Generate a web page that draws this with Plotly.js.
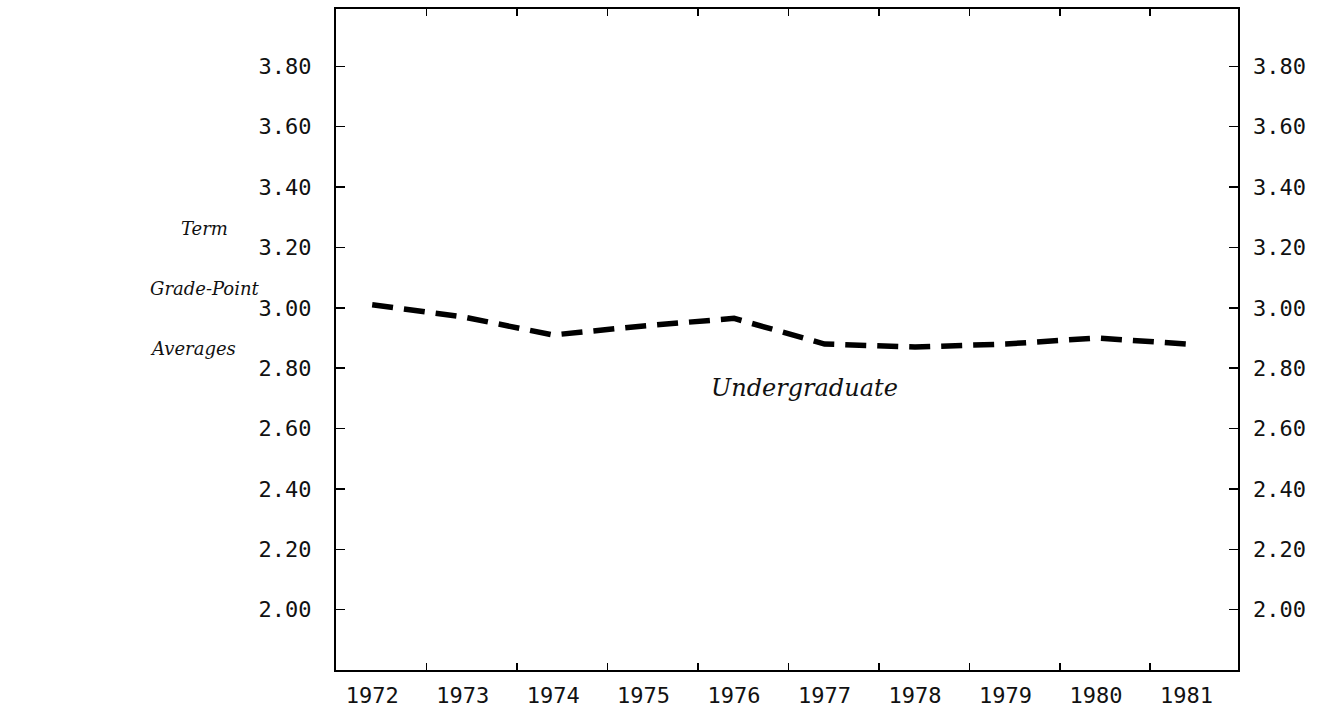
<!DOCTYPE html>
<html>
<head>
<meta charset="utf-8">
<script src="https://cdn.plot.ly/plotly-3.0.1.min.js"></script>
<style>html,body{margin:0;padding:0;background:#fff;}#chart{width:1333px;height:710px;}</style>
</head>
<body>
<div id="chart"></div>
<script>
// Data
var years = [1972, 1973, 1974, 1975, 1976, 1977, 1978, 1979, 1980, 1981];
var undergradGPA = [3.01, 2.97, 2.91, 2.94, 2.965, 2.88, 2.87, 2.88, 2.90, 2.88];
var yearLabels = ['1972','1973','1974','1975','1976','1977','1978','1979','1980','1981'];
var gpaTicks = [2.00, 2.20, 2.40, 2.60, 2.80, 3.00, 3.20, 3.40, 3.60, 3.80];
var gpaTickLabels = ['2.00','2.20','2.40','2.60','2.80','3.00','3.20','3.40','3.60','3.80'];
var seriesName = 'Undergraduate';

// Decorative tick-mark positions between year labels
var xTickMarks = years.slice(0, -1).map(function (y) { return y + 0.6; });

var xRange = [1971.6, 1981.57];
var yRange = [1.80, 3.99];
var monoFont = {family: 'DejaVu Sans Mono', size: 22, color: '#111'};
var italicBig = {family: 'DejaVu Serif', size: 24, color: '#111', style: 'italic'};
var italicSmall = {family: 'DejaVu Serif', size: 18, color: '#111', style: 'italic'};

var traces = [{
  x: years,
  y: undergradGPA,
  type: 'scatter',
  mode: 'lines',
  name: seriesName,
  line: {color: '#000', width: 5.5, dash: '21px,11px'},
  showlegend: false
}, {
  x: years,
  y: undergradGPA,
  xaxis: 'x2',
  yaxis: 'y2',
  type: 'scatter',
  mode: 'none',
  hoverinfo: 'skip',
  showlegend: false
}];

var layout = {
  width: 1333,
  height: 710,
  margin: {l: 336, r: 95, t: 9, b: 40},
  paper_bgcolor: '#fff',
  plot_bgcolor: '#fff',
  showlegend: false,
  xaxis: {
    range: xRange,
    tickmode: 'array',
    tickvals: years,
    ticktext: yearLabels,
    ticks: '',
    showline: true,
    linecolor: '#000',
    linewidth: 2,
    mirror: true,
    showgrid: false,
    zeroline: false,
    tickfont: monoFont,
    ticklabelstandoff: 5
  },
  xaxis2: {
    overlaying: 'x',
    anchor: 'y',
    side: 'bottom',
    range: xRange,
    tickmode: 'array',
    tickvals: xTickMarks,
    showticklabels: false,
    ticks: 'inside',
    ticklen: 7,
    tickwidth: 1.5,
    tickcolor: '#000',
    mirror: 'ticks',
    showline: false,
    showgrid: false,
    zeroline: false
  },
  yaxis: {
    range: yRange,
    tickmode: 'array',
    tickvals: gpaTicks,
    ticktext: gpaTickLabels,
    ticks: 'inside',
    ticklen: 9,
    tickwidth: 1.5,
    tickcolor: '#000',
    showline: true,
    linecolor: '#000',
    linewidth: 2,
    mirror: 'ticks',
    showgrid: false,
    zeroline: false,
    tickfont: monoFont,
    ticklabelstandoff: 18
  },
  yaxis2: {
    overlaying: 'y',
    anchor: 'x',
    side: 'right',
    range: yRange,
    tickmode: 'array',
    tickvals: gpaTicks,
    ticktext: gpaTickLabels,
    ticks: '',
    showline: false,
    showgrid: false,
    zeroline: false,
    tickfont: monoFont,
    ticklabelstandoff: 14
  },
  annotations: [
    {text: 'Term', xref: 'paper', yref: 'paper', x: (179 - 336) / 903, y: (670 - 228) / 661,
     xanchor: 'left', yanchor: 'middle', showarrow: false, font: italicSmall},
    {text: 'Grade-Point', xref: 'paper', yref: 'paper', x: (148 - 336) / 903, y: (670 - 288) / 661,
     xanchor: 'left', yanchor: 'middle', showarrow: false, font: italicSmall},
    {text: 'Averages', xref: 'paper', yref: 'paper', x: (148 - 336) / 903, y: (670 - 348) / 661,
     xanchor: 'left', yanchor: 'middle', showarrow: false, font: italicSmall},
    {text: seriesName, xref: 'x', yref: 'y', x: 1976.78, y: 2.735,
     xanchor: 'center', yanchor: 'middle', showarrow: false, font: italicBig}
  ]
};

Plotly.newPlot('chart', traces, layout, {staticPlot: true, displayModeBar: false});
</script>
</body>
</html>
